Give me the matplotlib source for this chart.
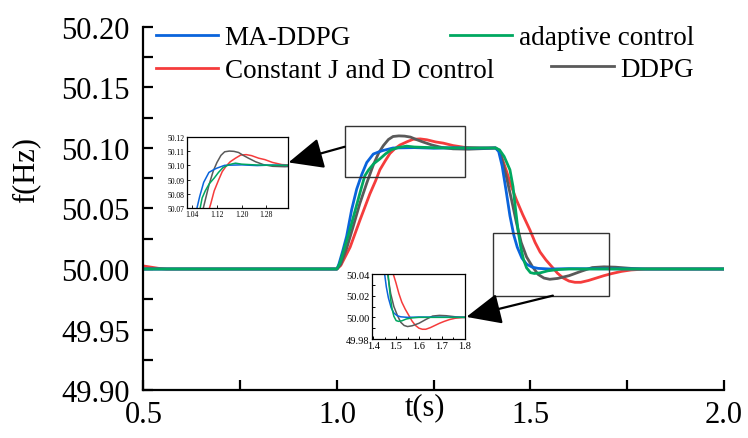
import matplotlib
matplotlib.use("Agg")
import matplotlib.pyplot as plt
from matplotlib.ticker import MultipleLocator, FormatStrFormatter
from matplotlib.patches import Rectangle

plt.rcParams['font.family'] = ['Liberation Serif', 'DejaVu Serif']

# ---------------- data ----------------
t_ma = [0.5, 1.0, 1.005, 1.015, 1.025, 1.038, 1.051, 1.064, 1.077, 1.094, 1.11, 1.12, 1.145, 1.2, 1.25,
        1.3, 1.35, 1.41, 1.418, 1.427, 1.437, 1.447, 1.457, 1.466, 1.478, 1.49, 1.505, 1.52, 1.55, 1.6, 1.8, 2.0]
f_ma = [50.0, 50.0, 50.004, 50.015, 50.027, 50.049, 50.066, 50.078, 50.088, 50.095, 50.097, 50.098, 50.100,
        50.1003, 50.0998, 50.1002, 50.0999, 50.1, 50.097, 50.085, 50.065, 50.044, 50.028, 50.018, 50.009,
        50.004, 50.0015, 50.0005, 50.0, 50.0003, 50.0, 50.0]

t_ad = [0.5, 1.0, 1.008, 1.02, 1.034, 1.051, 1.063, 1.072, 1.082, 1.095, 1.111, 1.125, 1.14, 1.16, 1.18, 1.2,
        1.25, 1.3, 1.41, 1.42, 1.432, 1.447, 1.455, 1.462, 1.468, 1.475, 1.482, 1.49, 1.5, 1.51, 1.525, 1.545,
        1.57, 1.6, 1.65, 2.0]
f_ad = [50.0, 50.0, 50.005, 50.018, 50.033, 50.053, 50.067, 50.077, 50.082, 50.087, 50.091, 50.095, 50.0985,
        50.1005, 50.1015, 50.1008, 50.1002, 50.1, 50.1, 50.0985, 50.093, 50.082, 50.068, 50.048, 50.032,
        50.018, 50.008, 50.001, 49.997, 49.9963, 49.9968, 49.9985, 49.9995, 50.0, 50.0, 50.0]

t_dd = [0.5, 1.0, 1.01, 1.025, 1.04, 1.059, 1.077, 1.094, 1.108, 1.12, 1.133, 1.145, 1.16, 1.175, 1.19, 1.205,
        1.222, 1.245, 1.27, 1.3, 1.34, 1.38, 1.41, 1.421, 1.438, 1.452, 1.464, 1.476, 1.49, 1.505, 1.52, 1.535,
        1.55, 1.57, 1.6, 1.63, 1.66, 1.69, 1.72, 1.76, 1.8, 2.0]
f_dd = [50.0, 50.0, 50.004, 50.017, 50.033, 50.054, 50.071, 50.086, 50.096, 50.102, 50.107, 50.1095, 50.110,
        50.1098, 50.109, 50.107, 50.105, 50.1025, 50.1005, 50.0993, 50.099, 50.0995, 50.1, 50.097, 50.076,
        50.056, 50.038, 50.022, 50.010, 50.002, 49.9955, 49.9925, 49.9915, 49.9922, 49.9945, 49.998,
        50.0012, 50.0018, 50.0015, 50.0005, 50.0, 50.0]

t_cj = [0.5, 0.52, 0.54, 0.56, 1.0, 1.01, 1.034, 1.059, 1.085, 1.1, 1.111, 1.125, 1.137, 1.15, 1.163, 1.18,
        1.197, 1.215, 1.232, 1.255, 1.275, 1.3, 1.33, 1.37, 1.41, 1.421, 1.438, 1.451, 1.464, 1.48, 1.499,
        1.512, 1.525, 1.54, 1.555, 1.57, 1.585, 1.6, 1.615, 1.63, 1.65, 1.67, 1.69, 1.71, 1.735, 1.76, 1.8, 2.0]
f_cj = [50.0025, 50.0015, 50.0005, 50.0, 50.0, 50.003, 50.018, 50.04, 50.062, 50.073, 50.082, 50.0895,
        50.0955, 50.0995, 50.1025, 50.105, 50.1072, 50.1075, 50.1068, 50.105, 50.104, 50.102, 50.1005, 50.1,
        50.1, 50.097, 50.081, 50.068, 50.057, 50.045, 50.032, 50.022, 50.014, 50.0075, 50.002, 49.9965,
        49.9925, 49.9900, 49.9890, 49.9890, 49.9905, 49.9925, 49.9945, 49.9962, 49.998, 49.9992, 50.0, 50.0]

labels = ["MA-DDPG", "adaptive control", "Constant J and D control", "DDPG"]
colors = {"MA-DDPG": "#0a64dc", "adaptive control": "#00a860",
          "Constant J and D control": "#f53c3c", "DDPG": "#5a5a5a"}

series = [("Constant J and D control", t_cj, f_cj), ("DDPG", t_dd, f_dd),
          ("MA-DDPG", t_ma, f_ma), ("adaptive control", t_ad, f_ad)]

zoom1_x = (1.023, 1.35); zoom1_y = (50.07, 50.12)
zoom2_x = (1.393, 1.8); zoom2_y = (49.98, 50.04)
rect1 = (1.02, 50.076, 0.31, 0.042)
rect2 = (1.402, 49.978, 0.302, 0.0517)

# ---------------- figure ----------------
fig = plt.figure(figsize=(7.48, 4.39), dpi=100)
ax = fig.add_axes([0.1918, 0.1093, 0.776, 0.827])

handles = {}
for name, t, f in series:
    ln, = ax.plot(t, f, color=colors[name], lw=2.0, label=name, solid_joinstyle='round')
    handles[name] = ln

ax.set_xlim(0.5, 2.0)
ax.set_ylim(49.90, 50.20)
ax.xaxis.set_major_locator(MultipleLocator(0.5))
ax.xaxis.set_minor_locator(MultipleLocator(0.25))
ax.yaxis.set_major_locator(MultipleLocator(0.05))
ax.yaxis.set_minor_locator(MultipleLocator(0.025))
ax.xaxis.set_major_formatter(FormatStrFormatter('%.1f'))
ax.yaxis.set_major_formatter(FormatStrFormatter('%.2f'))
for s in ['top', 'right']:
    ax.spines[s].set_visible(False)
for s in ['left', 'bottom']:
    ax.spines[s].set_linewidth(1.6)
ax.tick_params(which='both', direction='in', length=7, width=1.6)
ax.tick_params(axis='y', which='major', labelsize=22, pad=10)
ax.tick_params(axis='x', which='major', labelsize=22, pad=7)

ax.set_xlabel("t(s)", fontsize=22)
ax.xaxis.set_label_coords(0.485, -0.005)
ax.set_ylabel("f(Hz)", fontsize=22)
ax.yaxis.set_label_coords(-0.178, 0.61)

# zoom rectangles
for (x0, y0, w, h) in (rect1, rect2):
    ax.add_patch(Rectangle((x0, y0), w, h, fill=False, edgecolor='#333333', lw=1.0, zorder=5))

# legends
leg_kw = dict(frameon=False, fontsize=19.5, handlelength=2.3, handletextpad=0.25,
              borderpad=0, borderaxespad=0, bbox_transform=fig.transFigure)
l1 = ax.legend([handles["MA-DDPG"], handles["Constant J and D control"]],
               ["MA-DDPG", "Constant J and D control"], loc='upper left',
               bbox_to_anchor=(0.208, 0.94), labelspacing=0.3, **leg_kw)
ax.add_artist(l1)
l2 = ax.legend([handles["adaptive control"]], ["adaptive control"], loc='upper right',
               bbox_to_anchor=(0.928, 0.94), **leg_kw)
ax.add_artist(l2)
l3 = ax.legend([handles["DDPG"]], ["DDPG"], loc='upper right',
               bbox_to_anchor=(0.928, 0.868), **leg_kw)

# insets
ins1 = fig.add_axes([0.25, 0.524, 0.135, 0.162])
ins2 = fig.add_axes([0.497, 0.2255, 0.124, 0.148])
for ins in (ins1, ins2):
    for name, t, f in series:
        ins.plot(t, f, color=colors[name], lw=1.1)
    for s in ins.spines.values():
        s.set_linewidth(0.9)

ins1.set_xlim(*zoom1_x); ins1.set_ylim(*zoom1_y)
ins1.set_xticks([1.04, 1.12, 1.20, 1.28])
ins1.set_yticks([50.07, 50.08, 50.09, 50.10, 50.11, 50.12])
ins1.xaxis.set_major_formatter(FormatStrFormatter('%.2f'))
ins1.yaxis.set_major_formatter(FormatStrFormatter('%.2f'))
ins1.tick_params(direction='in', length=2, width=0.6, labelsize=5.5, pad=1.5)

ins2.set_xlim(*zoom2_x); ins2.set_ylim(*zoom2_y)
ins2.set_xticks([1.4, 1.5, 1.6, 1.7, 1.8])
ins2.xaxis.set_minor_locator(MultipleLocator(0.05))
ins2.set_yticks([49.98, 50.00, 50.02, 50.04])
ins2.yaxis.set_minor_locator(MultipleLocator(0.01))
ins2.xaxis.set_major_formatter(FormatStrFormatter('%.1f'))
ins2.yaxis.set_major_formatter(FormatStrFormatter('%.2f'))
ins2.tick_params(which='both', direction='in', length=2.5, width=0.7, labelsize=7.5, pad=1.5)
ins2.tick_params(which='minor', length=1.8)

# arrows
arrow_kw = dict(arrowstyle='-|>,head_length=0.9,head_width=0.4', color='black', lw=1.6,
                mutation_scale=24, shrinkA=0, shrinkB=0)
ax.annotate("", xy=(1.005, 0.64), xycoords=ins1.transAxes,
            xytext=(rect1[0], 50.101), textcoords='data', arrowprops=arrow_kw, zorder=6)
ax.annotate("", xy=(1.02, 0.34), xycoords=ins2.transAxes,
            xytext=(1.558, rect2[1]), textcoords='data', arrowprops=arrow_kw, zorder=6)

fig.savefig("out.png", dpi=100)
